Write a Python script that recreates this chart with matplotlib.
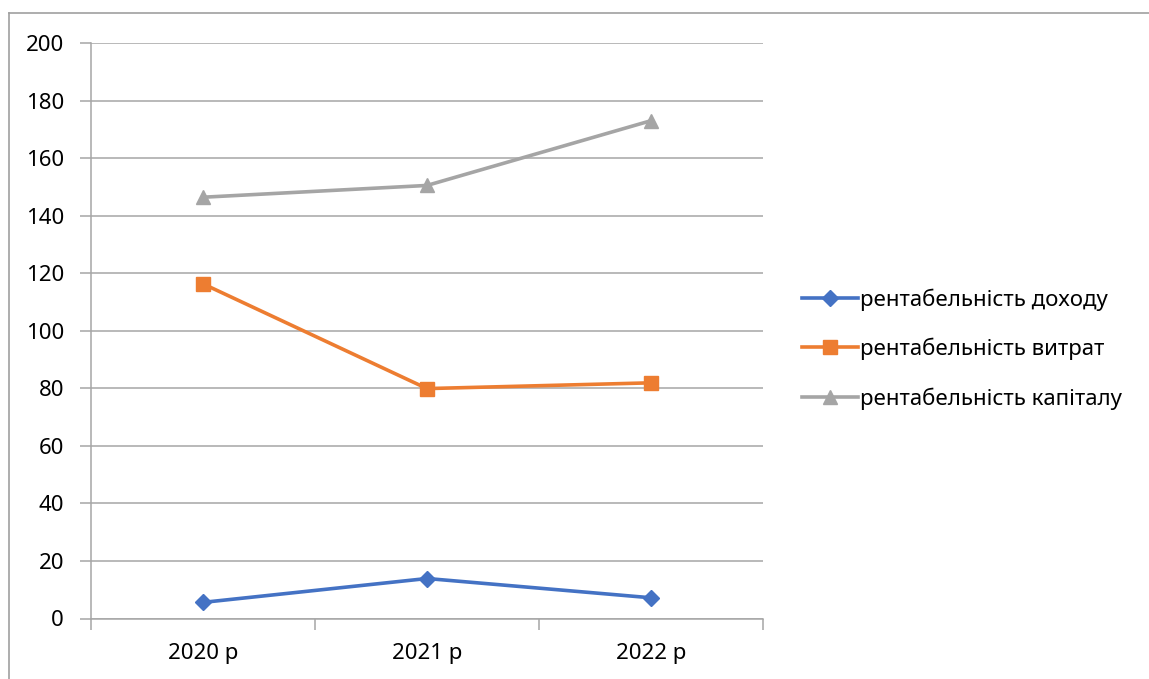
import matplotlib.pyplot as plt
from matplotlib.lines import Line2D

plt.rcParams['font.family'] = ['Noto Sans', 'DejaVu Sans']

# Profitability indicators by year
years = ["2020 р", "2021 р", "2022 р"]
income_rate = [5.6, 13.9, 7.2]
cost_rate = [116.3, 79.9, 81.9]
capital_rate = [146.4, 150.5, 173.0]

labels = ["рентабельність доходу", "рентабельність витрат", "рентабельність капіталу"]
colors = ["#4472C4", "#ED7D31", "#A5A5A5"]
markers = ["D", "s", "^"]
sizes = [8, 10, 10]

W, H = 1149, 679
fig = plt.figure(figsize=(W / 100, H / 100), dpi=100)
ax = fig.add_axes([91 / W, 1 - 618.5 / H, (763 - 91) / W, (618.5 - 43) / H])

grid_col = "#A6A6A6"
fs = 16
x = list(range(len(years)))
for vals, lab, col, mk, ms in zip([income_rate, cost_rate, capital_rate],
                                  labels, colors, markers, sizes):
    ax.plot(x, vals, color=col, lw=2.6, marker=mk, markersize=ms,
            label=lab, zorder=3)

ax.set_xlim(-0.5, len(years) - 0.5)
ax.set_ylim(0, 200)
ax.set_yticks(range(0, 201, 20))
ax.yaxis.grid(True, color=grid_col, lw=1.1)
ax.set_axisbelow(True)

ax.set_xticks(x)
ax.set_xticklabels(years)
ax.set_xticks([-0.5, 0.5, 1.5, 2.5], minor=True)
ax.tick_params(axis="x", which="major", length=0, pad=18, labelsize=fs)
ax.tick_params(axis="x", which="minor", length=8, color=grid_col, width=1.1)
ax.tick_params(axis="y", length=8, color=grid_col, width=1.1, pad=11.5,
               labelsize=fs)

for side in ["top", "right"]:
    ax.spines[side].set_visible(False)
for side in ["left", "bottom"]:
    ax.spines[side].set_color(grid_col)
    ax.spines[side].set_linewidth(1.1)

ax.legend(loc="center left", bbox_to_anchor=(802 / W, 1 - 349 / H),
          bbox_transform=fig.transFigure, frameon=False, fontsize=fs,
          handlelength=2.5, handletextpad=0.1, labelspacing=1.22,
          borderaxespad=0, borderpad=0)

# Chart frame (left and top edges)
fig.add_artist(Line2D([8.5 / W, 8.5 / W], [0, 1 - 13 / H], color="#A0A0A0",
                      lw=1.2, transform=fig.transFigure))
fig.add_artist(Line2D([8.5 / W, 1], [1 - 13 / H, 1 - 13 / H], color="#A0A0A0",
                      lw=1.2, transform=fig.transFigure))

fig.savefig("out.png", dpi=100)
